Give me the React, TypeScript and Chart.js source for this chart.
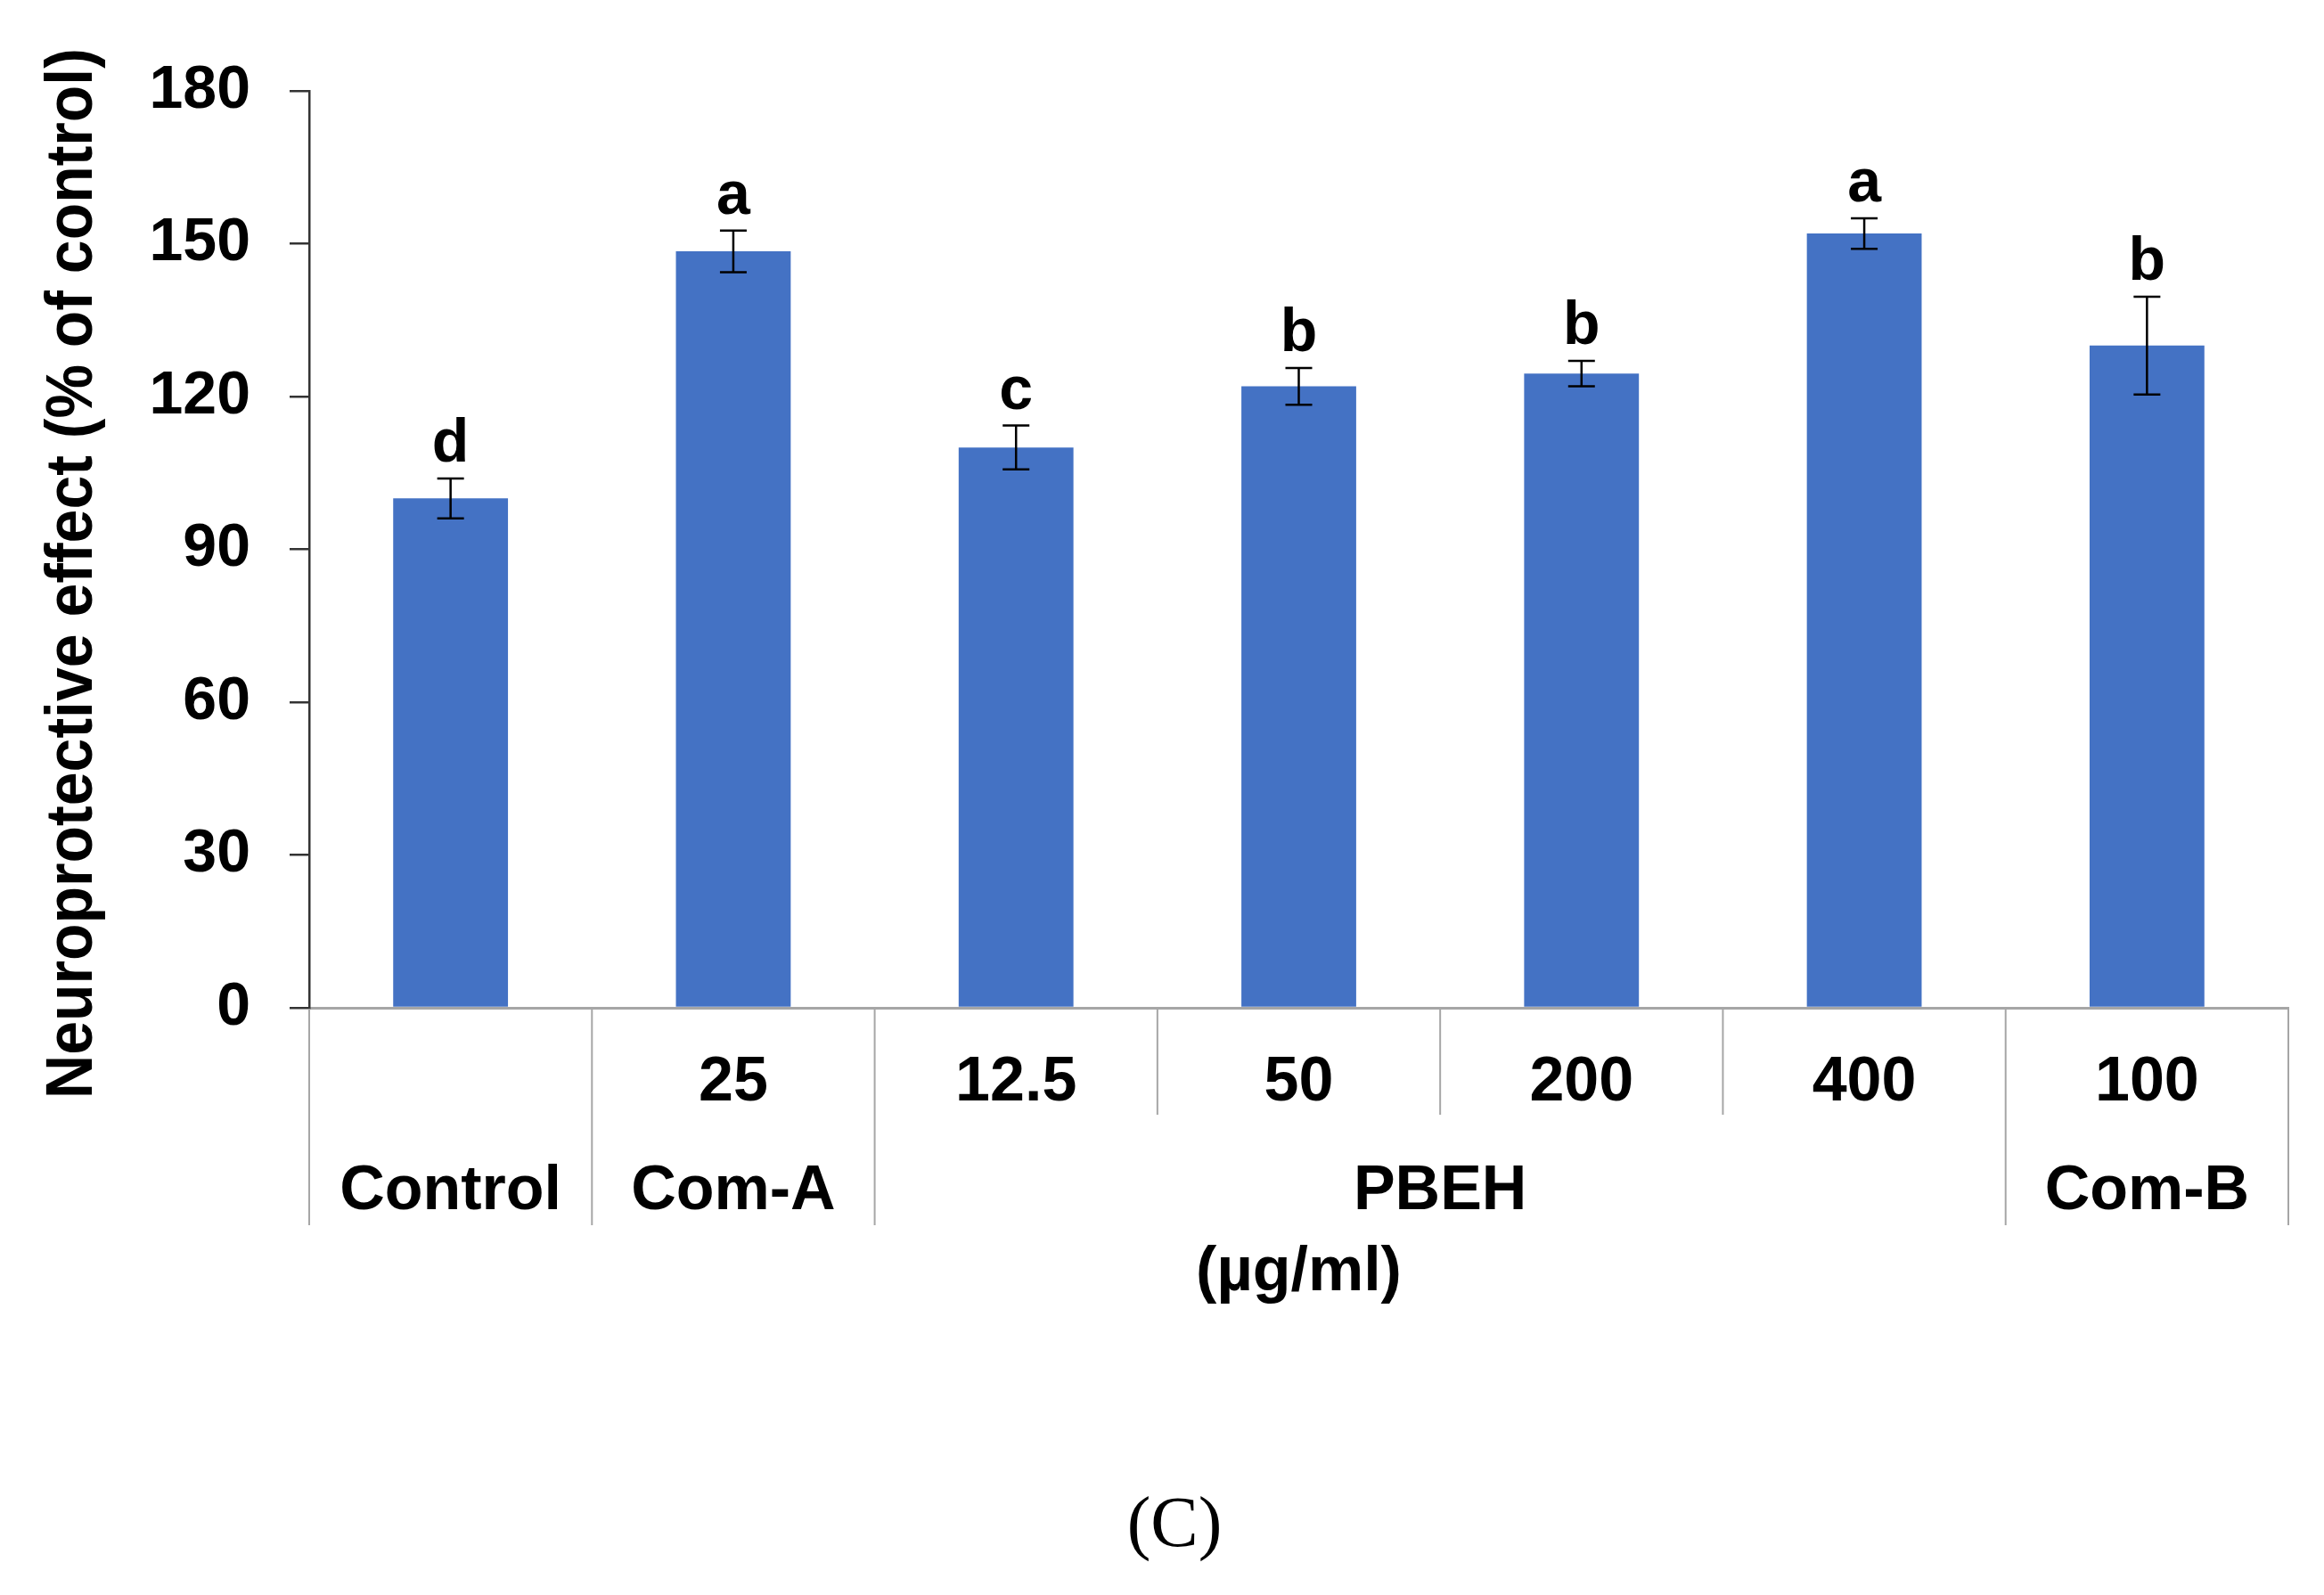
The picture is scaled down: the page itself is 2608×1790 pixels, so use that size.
import React, { useEffect, useRef } from 'react';
import { Chart, registerables } from 'chart.js';

Chart.register(...registerables);

const categories = ['Control', 'Com-A 25', 'PBEH 12.5', 'PBEH 50', 'PBEH 200', 'PBEH 400', 'Com-B 100'];
const doseLabels = ['', '25', '12.5', '50', '200', '400', '100'];
const groupNames = ['Control', 'Com-A', 'PBEH', 'Com-B'];
const groupStart = [0, 1, 2, 6];
const groupEnd = [0, 1, 5, 6];
const meanValues = [100, 148.5, 110, 122, 124.5, 152, 130];
const errorValues = [3.9, 4.1, 4.3, 3.6, 2.5, 3.0, 9.6];
const letters = ['d', 'a', 'c', 'b', 'b', 'a', 'b'];
const yTicks = [0, 30, 60, 90, 120, 150, 180];
const yTitle = 'Neuroprotective effect (% of control)';
const xTitle = '(µg/ml)';
const panelLabel = '(C)';

const SANS = '"Liberation Sans", Arial, sans-serif';
const SERIF = '"Liberation Serif", "Times New Roman", serif';

const annotationPlugin = {
  id: 'annotationPlugin',
  afterDatasetsDraw(chart: any) {
    const ctx = chart.ctx;
    const y = chart.scales.y;
    const meta = chart.getDatasetMeta(0);
    ctx.save();
    meta.data.forEach((bar: any, i: number) => {
      const cx = bar.x;
      const top = y.getPixelForValue(meanValues[i] + errorValues[i]);
      const bot = y.getPixelForValue(meanValues[i] - errorValues[i]);
      ctx.strokeStyle = '#000';
      ctx.lineWidth = 2.5;
      ctx.beginPath();
      ctx.moveTo(cx, top);
      ctx.lineTo(cx, bot);
      ctx.moveTo(cx - 15, top);
      ctx.lineTo(cx + 15, top);
      ctx.moveTo(cx - 15, bot);
      ctx.lineTo(cx + 15, bot);
      ctx.stroke();
      ctx.fillStyle = '#000';
      ctx.font = `bold 68px ${SANS}`;
      ctx.textAlign = 'center';
      ctx.textBaseline = 'alphabetic';
      ctx.fillText(letters[i], cx, top - 19);
    });
    ctx.restore();
  },
  afterDraw(chart: any) {
    const ctx = chart.ctx;
    const x = chart.scales.x;
    const area = chart.chartArea;
    const bottom = area.bottom;
    const w = x.getPixelForValue(1) - x.getPixelForValue(0);
    const b0 = x.getPixelForValue(0) - w / 2;
    const n = categories.length;
    const longSet = new Set<number>();
    groupStart.forEach((s) => longSet.add(s));
    groupEnd.forEach((e) => longSet.add(e + 1));

    ctx.save();
    // dividers
    ctx.strokeStyle = '#a6a6a6';
    ctx.lineWidth = 2;
    for (let i = 0; i <= n; i++) {
      const bx = b0 + i * w;
      const len = longSet.has(i) ? 244 : 120;
      ctx.beginPath();
      ctx.moveTo(bx, bottom + 1);
      ctx.lineTo(bx, bottom + len);
      ctx.stroke();
    }
    // dose row
    ctx.fillStyle = '#000';
    ctx.textAlign = 'center';
    ctx.textBaseline = 'alphabetic';
    ctx.font = `bold 70px ${SANS}`;
    doseLabels.forEach((lab, i) => {
      if (!lab) return;
      ctx.fillText(lab, x.getPixelForValue(i), bottom + 104);
    });
    // group row
    groupNames.forEach((g, k) => {
      const cx = (x.getPixelForValue(groupStart[k]) + x.getPixelForValue(groupEnd[k])) / 2;
      ctx.fillText(g, cx, bottom + 226);
    });
    // x title
    ctx.fillText(xTitle, (area.left + area.right) / 2, bottom + 317);
    // y title
    ctx.save();
    ctx.translate(area.left - 244, (area.top + area.bottom) / 2 + 27);
    ctx.rotate(-Math.PI / 2);
    ctx.scale(1, 1.08);
    ctx.font = `bold 68px ${SANS}`;
    ctx.textAlign = 'center';
    ctx.textBaseline = 'alphabetic';
    ctx.fillText(yTitle, 0, 0);
    ctx.restore();
    // panel label
    ctx.font = `80px ${SERIF}`;
    ctx.textAlign = 'center';
    ctx.fillText(panelLabel, 1318, bottom + 604);
    ctx.restore();
  },
};

export default function App() {
  const canvasRef = useRef<HTMLCanvasElement | null>(null);

  useEffect(() => {
    document.body.style.margin = '0';
    const canvas = canvasRef.current;
    if (!canvas) return;
    const chart = new Chart(canvas, {
      type: 'bar',
      data: {
        labels: categories,
        datasets: [
          {
            data: meanValues,
            backgroundColor: '#4472C4',
            borderWidth: 0,
            categoryPercentage: 1,
            barPercentage: 0.406,
          },
        ],
      },
      options: {
        responsive: false,
        animation: false,
        devicePixelRatio: 1,
        layout: { padding: { top: 102, right: 40, bottom: 0, left: 0 } },
        plugins: {
          legend: { display: false },
          tooltip: { enabled: false },
          title: { display: false },
        },
        scales: {
          x: {
            type: 'category',
            grid: { display: false },
            ticks: { display: false },
            border: { display: true, color: '#a6a6a6', width: 3 },
            afterFit: (scale: any) => {
              scale.height = 659;
            },
          },
          y: {
            min: yTicks[0],
            max: yTicks[yTicks.length - 1],
            afterBuildTicks: (scale: any) => {
              scale.ticks = yTicks.map((v) => ({ value: v }));
            },
            grid: {
              display: true,
              drawOnChartArea: false,
              drawTicks: true,
              tickLength: 22,
              color: '#333',
              lineWidth: 2.5,
            },
            border: { display: true, color: '#333', width: 2.5 },
            ticks: {
              color: '#000',
              padding: 44,
              font: { family: SANS, size: 68, weight: 'bold' },
            },
            afterFit: (scale: any) => {
              scale.width = 347;
            },
          },
        },
      },
      plugins: [annotationPlugin],
    } as any);
    return () => chart.destroy();
  }, []);

  return (
    <div style={{ width: 2608, height: 1790, background: '#fff' }}>
      <canvas ref={canvasRef} width={2608} height={1790} style={{ display: 'block', width: 2608, height: 1790 }} />
    </div>
  );
}
